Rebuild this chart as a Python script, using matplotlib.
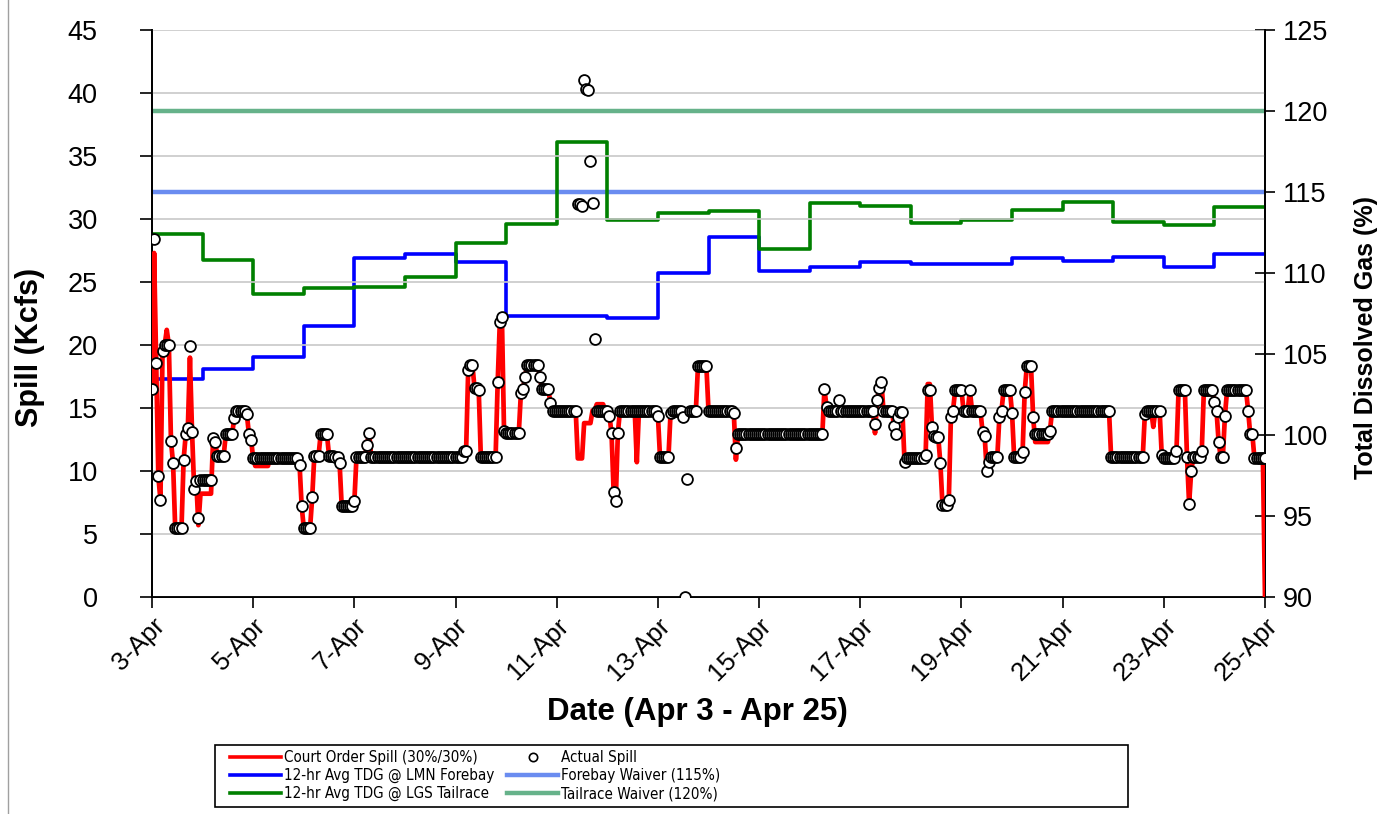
import matplotlib
matplotlib.use("Agg")
import matplotlib.pyplot as plt
import matplotlib.dates as mdates
from matplotlib.lines import Line2D
from matplotlib.patches import Rectangle
from matplotlib.ticker import FuncFormatter
from matplotlib.font_manager import FontProperties
import numpy as np
import pandas as pd

plt.rcParams['font.family'] = ['Liberation Sans', 'DejaVu Sans']

# hourly spill (Kcfs), run-length: (value, number of hours), from Apr 3 00:00
spill_runs = [
    (16.5, 1), (28.4, 1), (18.6, 1), (9.6, 1), (7.7, 1), (19.5, 1), (20.0, 3),
    (12.4, 1), (10.6, 1), (5.5, 4), (10.9, 1), (12.9, 1), (13.4, 1), (19.9, 1),
    (13.1, 1), (8.6, 1), (9.2, 1), (6.3, 1), (9.3, 6), (12.6, 1), (12.3, 1),
    (11.2, 4), (12.9, 4), (14.2, 1), (14.8, 5), (14.5, 1), (12.9, 1), (12.5, 1),
    (11.0, 22), (10.5, 1), (7.2, 1), (5.5, 4), (7.9, 1), (11.2, 3), (12.9, 4),
    (11.2, 3), (11.1, 2), (10.6, 1), (7.2, 6), (7.6, 1), (11.1, 5), (12.1, 1),
    (13.0, 1), (11.1, 44), (11.6, 2), (18.0, 1), (18.4, 2), (16.6, 2), (16.4, 1),
    (11.1, 8), (17.1, 1), (21.8, 1), (22.2, 1), (13.2, 1), (13.0, 7), (16.2, 1),
    (16.5, 1), (17.5, 1), (18.4, 6), (17.5, 1), (16.5, 4), (15.4, 1), (14.8, 12),
    (11.0, 3), (13.8, 4), (14.8, 8), (14.4, 1), (13.0, 1), (8.3, 1), (7.6, 1),
    (13.0, 1), (14.8, 18), (14.4, 1), (11.1, 5), (14.6, 1), (14.8, 5), (14.3, 1),
    (14.8, 6), (18.3, 5), (14.8, 12), (14.6, 1), (11.8, 1), (12.9, 41), (16.5, 1),
    (15.1, 1), (14.8, 5), (15.6, 1), (14.8, 16), (13.7, 1), (15.6, 1), (16.6, 1),
    (17.1, 1), (14.8, 5), (13.6, 1), (12.9, 1), (14.3, 1), (14.7, 2), (10.7, 1),
    (11.0, 9), (11.3, 1), (16.4, 2), (13.5, 1), (12.8, 1), (12.7, 2), (10.6, 1),
    (7.3, 3), (7.7, 1), (14.3, 1), (14.8, 1), (16.4, 4), (14.8, 3), (16.4, 1),
    (14.8, 5), (13.1, 1), (12.8, 1), (10.0, 1), (10.7, 1), (11.1, 4), (14.3, 1),
    (14.8, 1), (16.4, 4), (14.6, 1), (11.1, 4), (11.5, 1), (16.3, 1), (18.3, 3),
    (14.3, 1), (12.9, 7), (13.2, 1), (14.8, 28), (11.1, 16), (14.5, 1), (14.8, 7),
    (11.3, 1), (11.0, 6), (11.6, 1), (16.4, 4), (11.1, 1), (7.4, 1), (10.0, 1),
    (11.1, 4), (11.6, 1), (16.4, 5), (15.5, 1), (14.8, 1), (12.3, 1), (11.1, 2),
    (14.4, 1), (16.4, 10), (14.8, 1), (12.9, 2), (11.0, 6),
]

# hours where the court order spill differs from the actual spill
court_hours = [1, 7, 18, 22, 23, 24, 25, 26, 27, 28, 49, 50, 51, 52, 53, 54, 55,
               211, 212, 213, 214, 230, 277, 343, 368, 369,
               419, 420, 421, 422, 423, 424, 425, 475, 528]
court_values = [27.3, 21.2, 19.0, 5.7, 8.2, 8.2, 8.2, 8.2, 8.2, 8.2,
                10.4, 10.4, 10.4, 10.4, 10.4, 10.4, 10.4,
                15.3, 15.3, 15.3, 15.3, 10.7, 10.9, 13.0, 16.9, 16.9,
                12.3, 12.3, 12.3, 12.3, 12.3, 12.3, 12.3, 13.5, 0.0]

# hours where the actual spill left the court order line
actual_hours = [202, 203, 204, 205, 206, 207, 208, 209, 210, 253, 254]
actual_values = [31.2, 31.2, 31.0, 41.0, 40.3, 40.2, 34.6, 31.3, 20.5, 0.0, 9.4]

# daily 12-hr avg TDG (%), Apr 3 .. Apr 24
tdg_forebay = [103.45, 104.1, 104.8, 106.7, 110.9, 111.2, 110.7, 107.35, 107.35,
               107.2, 110.0, 112.2, 110.1, 110.4, 110.7, 110.55, 110.55, 110.9,
               110.75, 111.0, 110.4, 111.2]
tdg_tailrace = [112.4, 110.8, 108.7, 109.05, 109.15, 109.75, 111.85, 113.0, 118.1,
                113.3, 113.7, 113.8, 111.5, 114.3, 114.15, 113.1, 113.3, 113.9,
                114.4, 113.15, 112.95, 114.1]
forebay_waiver = 115
tailrace_waiver = 120

start = pd.Timestamp('2008-04-03')
end = pd.Timestamp('2008-04-25')

base = np.concatenate([[v] * n for v, n in spill_runs])
hours = pd.date_range(start, periods=len(base), freq='h')
court = base.copy()
actual = base.copy()
for h, v in zip(court_hours, court_values):
    if h < len(court):
        court[h] = v
for h, v in zip(actual_hours, actual_values):
    if h < len(actual):
        actual[h] = v

days = pd.date_range(start, periods=len(tdg_forebay) + 1, freq='D')
fb = tdg_forebay + [tdg_forebay[-1]]
tr = tdg_tailrace + [tdg_tailrace[-1]]

W, H = 1383, 814
fig = plt.figure(figsize=(W / 100, H / 100), dpi=100)
ax1 = fig.add_axes([152 / W, 1 - 597 / H, (1265 - 152) / W, (597 - 30) / H])
ax2 = ax1.twinx()
ax1.set_zorder(ax2.get_zorder() + 1)
ax1.patch.set_visible(False)

ax2.axhline(tailrace_waiver, color='#66B28A', lw=3.2, zorder=2)
ax2.axhline(forebay_waiver, color='#6A8CF0', lw=3.2, zorder=2)
ax2.plot(days, fb, drawstyle='steps-post', color='#0000FF', lw=2.6, zorder=3)
ax2.plot(days, tr, drawstyle='steps-post', color='#008000', lw=2.6, zorder=3)

ax1.plot(hours, court, color='#FF0000', lw=3.4, zorder=3)
ax1.plot(hours, actual, 'o', ms=7.8, mfc='white', mec='black', mew=1.3, zorder=4)

ax1.set_xlim(start, end)
ax1.set_ylim(0, 45)
ax2.set_ylim(90, 125)
ax1.set_yticks(np.arange(0, 46, 5))
ax2.set_yticks(np.arange(90, 126, 5))
ax1.yaxis.grid(True, color='#C8C8C8', lw=1.2)
ax1.set_axisbelow(True)

ax1.set_xticks(pd.date_range(start, end, freq='2D'))
ax1.xaxis.set_major_formatter(FuncFormatter(
    lambda x, p: f"{mdates.num2date(x).day}-{mdates.num2date(x).strftime('%b')}"))

for ax in (ax1, ax2):
    ax.spines['top'].set_visible(False)
    for s in ax.spines.values():
        s.set_linewidth(1.3)
ax1.tick_params(axis='y', direction='out', length=9, width=1.2, labelsize=19.5, pad=30)
ax2.tick_params(axis='y', direction='inout', length=14, width=1.2, labelsize=19.5, pad=6)
ax1.tick_params(axis='x', direction='out', length=8, width=1.2, labelsize=18.5, pad=4)
for lab in ax1.get_xticklabels():
    lab.set_rotation(45)
    lab.set_ha('right')
    lab.set_va('top')
    lab.set_rotation_mode('anchor')

fig.text(30 / W, 1 - 347 / H, 'Spill (Kcfs)', rotation=90, ha='center', va='center',
         fontsize=22, fontweight='bold')
fig.text(1366 / W, 1 - 338 / H, 'Total Dissolved Gas (%)', rotation=90, ha='center',
         va='center', fontsize=18, fontweight='bold')
fig.text(697 / W, 1 - 712 / H, 'Date (Apr 3 - Apr 25)', ha='center', va='center',
         fontsize=22.5, fontweight='bold')

# legend: two columns placed side by side inside one box
leg_font = FontProperties(family='DejaVu Sans', stretch='condensed', size=10.9)
col1 = [Line2D([], [], color='#FF0000', lw=2.6),
        Line2D([], [], color='#0000FF', lw=2.6),
        Line2D([], [], color='#008000', lw=2.6)]
col1_labels = ['Court Order Spill (30%/30%)', '12-hr Avg TDG @ LMN Forebay',
               '12-hr Avg TDG @ LGS Tailrace']
col2 = [Line2D([], [], ls='none', marker='o', ms=6, mfc='white', mec='black', mew=1.2),
        Line2D([], [], color='#6A8CF0', lw=3.2),
        Line2D([], [], color='#66B28A', lw=3.2)]
col2_labels = ['Actual Spill', 'Forebay Waiver (115%)', 'Tailrace Waiver (120%)']
common = dict(loc='upper left', frameon=False, prop=leg_font, handlelength=3.4,
              handletextpad=0.15, labelspacing=0.2, borderpad=0.0, borderaxespad=0)
fig.legend(col1, col1_labels, bbox_to_anchor=(230 / W, 1 - 750 / H), **common)
fig.legend(col2, col2_labels, bbox_to_anchor=(507 / W, 1 - 750 / H), **common)
fig.patches.append(Rectangle((215 / W, 1 - 807 / H), (1128 - 215) / W, 62 / H,
                             transform=fig.transFigure, fill=False, ec='black', lw=1.2))
fig.lines.append(Line2D([8 / W, 8 / W], [0, 1], transform=fig.transFigure,
                        color='#A0A0A0', lw=1))

fig.savefig('out.png', dpi=100)
